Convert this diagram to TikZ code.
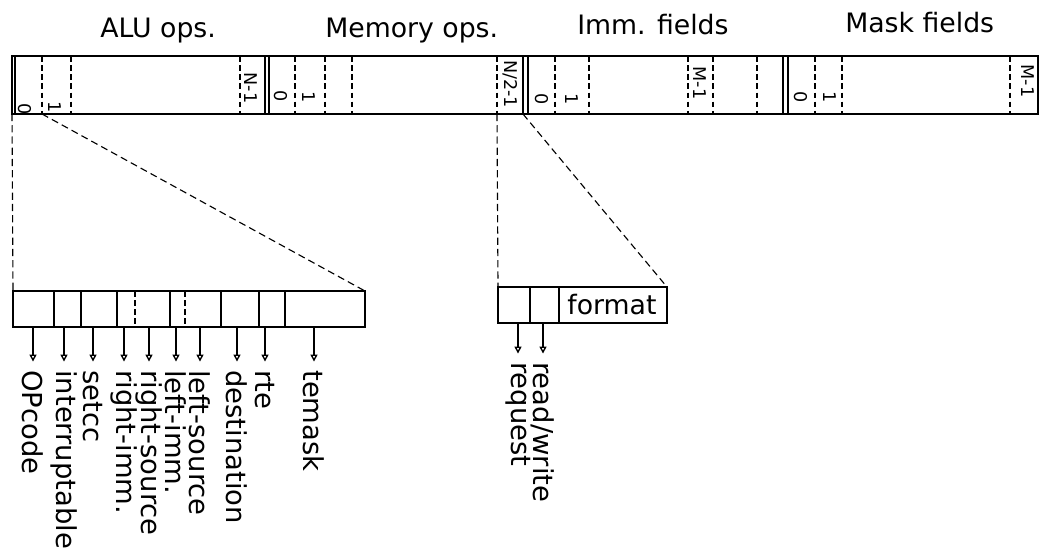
\documentclass[tikz,border=0pt]{standalone}
\usepackage{fontspec}
\setmainfont{DejaVu Sans}
\usetikzlibrary{arrows.meta}
\tikzset{
  title/.style={font=\fontsize{19}{22}\selectfont,anchor=base west,inner sep=0pt},
  cellnum/.style={font=\fontsize{12.5}{14}\selectfont,rotate=-90,inner sep=0pt},
  fieldname/.style={font=\fontsize{19.5}{22}\selectfont,rotate=-90,anchor=west,inner sep=0pt},
  wire/.style={line width=1pt},
  cut/.style={line width=1pt,dash pattern=on 4pt off 2.5pt},
  zoomline/.style={line width=.8pt,dash pattern=on 5pt off 3pt},
  fieldarrow/.style={line width=1pt,-{Triangle[open,length=5pt,width=5pt]},shorten >=6pt}
}
\begin{document}
\begin{tikzpicture}[x=0.025cm,y=-0.025cm]
\useasboundingbox (0,0) rectangle (1044,551);
\node[title] (alut) at (100,38) {ALU ops.};
\node[title] (memt) at (325,38) {Memory ops.};
\node[title] (immt) at (577,35) {Imm. fields};
\node[title] (maskt) at (845,33) {Mask fields};
\draw[wire] (12,56) rectangle (1038,114);
\foreach \x in {15,265,269,523,528,783,788} \draw[wire] (\x,56) -- (\x,114);
\foreach \x in {42,71,240,295,325,352,497,555,589,688,713,757,815,842,1010} \draw[cut] (\x,56) -- (\x,114);
\foreach \x/\y/\lab [count=\i] in {25/109/0,55/107/1,251/88/N-1,281/96/0,309/97/1,510/84/{N/2-1},542/99/0,572/99/1,700/83/M-1,801/97/0,830/97/1,1028/81/M-1} \node[cellnum] (c\i) at (\x,\y) {\lab};
\draw[wire] (13,291) rectangle (365,327);
\foreach \x in {54,81,117,170,221,259,285} \draw[wire] (\x,291) -- (\x,327);
\foreach \x in {135,185} \draw[cut] (\x,291) -- (\x,327);
\draw[wire] (498,287) rectangle (667,323);
\foreach \x in {530,559} \draw[wire] (\x,287) -- (\x,323);
\node[font=\fontsize{19}{22}\selectfont,inner sep=0pt] (fmt) at (612,305) {format};
\coordinate (a0l) at (12,114);
\coordinate (a0r) at (42,114);
\coordinate (abl) at (13,291);
\coordinate (abr) at (365,291);
\coordinate (mnl) at (497,114);
\coordinate (mnr) at (523,114);
\coordinate (fbl) at (498,287);
\coordinate (fbr) at (667,287);
\draw[zoomline] (a0l) -- (abl);
\draw[zoomline] (a0r) -- (abr);
\draw[zoomline] (mnl) -- (fbl);
\draw[zoomline] (mnr) -- (fbr);
\foreach \x/\lab [count=\i] in {33/OPcode,64/interruptable,93/setcc,124/right-imm.,149/right-source,176/left-imm.,200/left-source,237/destination,265/rte,314/temask} {\coordinate (ab\i) at (\x,327); \node[fieldname] (af\i) at (\x,370) {\lab}; \draw[fieldarrow] (ab\i) -- (af\i.west);}
\foreach \x/\lab [count=\i] in {518/request,543/{read/write}} {\coordinate (fb\i) at (\x,323); \node[fieldname] (ff\i) at (\x,362) {\lab}; \draw[fieldarrow] (fb\i) -- (ff\i.west);}
\end{tikzpicture}
\end{document}
